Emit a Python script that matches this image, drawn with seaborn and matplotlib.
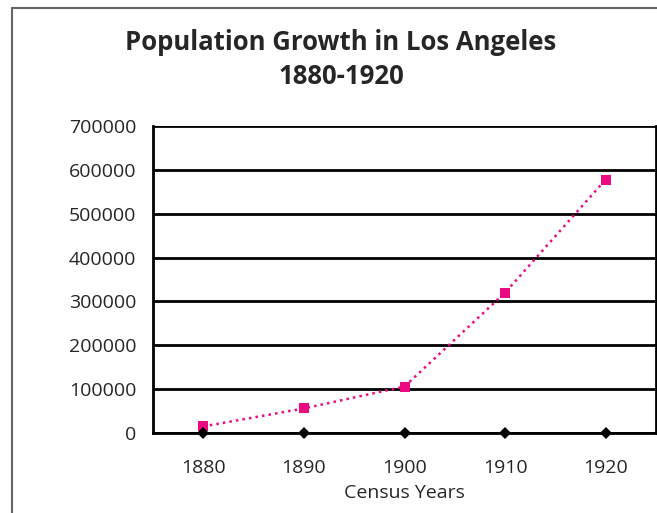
import numpy as np
import pandas as pd
import matplotlib
matplotlib.use("Agg")
import matplotlib.pyplot as plt
import seaborn as sns
from matplotlib.lines import Line2D

years = ['1880', '1890', '1900', '1910', '1920']
population = [15000, 56000, 106000, 320000, 578000]
baseline = [0, 0, 0, 0, 0]

sns.set_style('white')
plt.rcParams['font.family'] = ['Open Sans', 'DejaVu Sans']

df = pd.DataFrame({'pos': np.arange(len(years)), 'year': years,
                   'population': population, 'base': baseline})

fig = plt.figure(figsize=(6.57, 5.13), dpi=100)
ax = fig.add_axes([153 / 657, 1 - 433 / 513, 503 / 657, 307 / 513])

sns.lineplot(data=df, x='pos', y='population', ax=ax, color='#EC0A80',
             linestyle=':', linewidth=1.8, marker='s', markersize=7,
             markeredgewidth=0, zorder=5)
sns.lineplot(data=df, x='pos', y='base', ax=ax, color='black',
             linewidth=0, marker='D', markersize=6.5, markeredgewidth=0,
             zorder=6, clip_on=False)

ax.set_xlim(-0.5, len(years) - 0.5)
ax.set_ylim(0, 700000)
ax.set_yticks(np.arange(0, 700001, 100000))
ax.set_yticklabels([str(v) for v in range(0, 700001, 100000)], fontsize=14)
ax.set_xticks(np.arange(-0.5, len(years), 1.0))
ax.set_xticklabels([])
ax.set_xticks(df['pos'], minor=True)
ax.set_xticklabels(years, minor=True, fontsize=14)
ax.tick_params(axis='x', which='minor', length=0, pad=19)
ax.tick_params(axis='x', which='major', length=8, width=2, direction='out', color='black')
ax.tick_params(axis='y', length=6, width=2, direction='out', color='black', pad=6)
ax.grid(axis='y', color='black', linewidth=2)
ax.set_axisbelow(True)
for s in ['left', 'bottom', 'right']:
    ax.spines[s].set_visible(True)
    ax.spines[s].set_color('black')
    ax.spines[s].set_linewidth(2)
ax.spines['top'].set_visible(False)
ax.set_xlabel('Census Years', fontsize=14, labelpad=5)
ax.set_ylabel('')

fig.text(341 / 657, 1 - 42 / 513, 'Population Growth in Los Angeles',
         ha='center', va='center', fontsize=18.5, fontweight='bold')
fig.text(341 / 657, 1 - 76 / 513, '1880-1920',
         ha='center', va='center', fontsize=18.5, fontweight='bold')

fig.add_artist(Line2D([12 / 657, 12 / 657], [0, 1 - 8 / 513], color='#666666', linewidth=1.5))
fig.add_artist(Line2D([12 / 657, 1], [1 - 8 / 513, 1 - 8 / 513], color='#666666', linewidth=1.5))

fig.savefig('out.png', dpi=100)
